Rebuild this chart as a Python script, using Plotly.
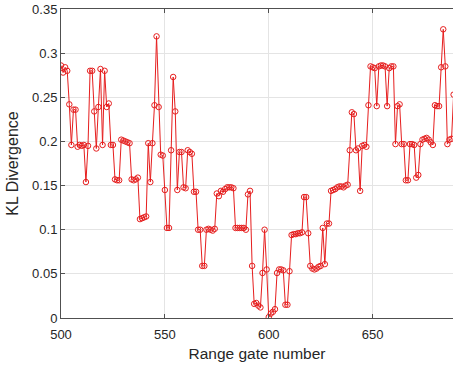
import plotly.graph_objects as go

start_gate = 500
kl_values = [
    0.286, 0.278, 0.284, 0.280, 0.242, 0.196, 0.236, 0.236, 0.194, 0.196,
    0.195, 0.196, 0.154, 0.195, 0.280, 0.280, 0.234, 0.192, 0.239, 0.282,
    0.196, 0.280, 0.239, 0.243, 0.196, 0.196, 0.157, 0.156, 0.156, 0.202,
    0.201, 0.200, 0.199, 0.198, 0.157, 0.156, 0.157, 0.159, 0.112, 0.113,
    0.114, 0.115, 0.198, 0.154, 0.198, 0.241, 0.319, 0.239, 0.185, 0.184,
    0.145, 0.102, 0.102, 0.190, 0.273, 0.234, 0.145, 0.188, 0.188, 0.148,
    0.147, 0.190, 0.188, 0.186, 0.143, 0.143, 0.100, 0.100, 0.059, 0.059,
    0.100, 0.101, 0.100, 0.099, 0.101, 0.141, 0.138, 0.144, 0.143, 0.146,
    0.148, 0.148, 0.148, 0.147, 0.102, 0.102, 0.102, 0.102, 0.102, 0.100,
    0.140, 0.144, 0.059, 0.016, 0.017, 0.014, 0.012, 0.051, 0.100, 0.055,
    0.001, 0.005, 0.007, 0.010, 0.051, 0.055, 0.055, 0.054, 0.015, 0.015,
    0.053, 0.094, 0.095, 0.095, 0.096, 0.096, 0.097, 0.137, 0.137, 0.096,
    0.059, 0.056, 0.055, 0.056, 0.058, 0.059, 0.102, 0.061, 0.107, 0.107,
    0.144, 0.145, 0.146, 0.148, 0.149, 0.149, 0.148, 0.150, 0.151, 0.190,
    0.233, 0.231, 0.190, 0.192, 0.144, 0.195, 0.196, 0.194, 0.241, 0.285,
    0.284, 0.283, 0.240, 0.285, 0.286, 0.286, 0.285, 0.240, 0.283, 0.285,
    0.285, 0.197, 0.240, 0.242, 0.197, 0.197, 0.156, 0.156, 0.197, 0.197,
    0.196, 0.159, 0.162, 0.197, 0.202, 0.203, 0.204, 0.202, 0.199, 0.196,
    0.241, 0.240, 0.240, 0.284, 0.327, 0.285, 0.197, 0.202, 0.203, 0.253,
]
gates = [start_gate + i for i in range(len(kl_values))]

x_ticks = [500, 550, 600, 650]
y_ticks = [0, 0.05, 0.1, 0.15, 0.2, 0.25, 0.3, 0.35]
y_tick_text = ["0", "0.05", "0.1", "0.15", "0.2", "0.25", "0.3", "0.35"]

red = "rgb(230,30,30)"
axis_col = "rgb(80,80,80)"
text_col = "rgb(38,38,38)"

fig = go.Figure(go.Scatter(
    x=gates, y=kl_values, mode="lines+markers",
    line=dict(color=red, width=1),
    marker=dict(symbol="circle-open", size=5.5, color=red, line=dict(width=1)),
    cliponaxis=True,
))

fig.update_layout(
    width=453, height=368,
    margin=dict(l=61, r=0, t=9, b=50),
    paper_bgcolor="white", plot_bgcolor="white",
    showlegend=False,
    font=dict(family="Liberation Sans, Arial, sans-serif", color=text_col, size=13),
)
fig.update_xaxes(
    range=[500, 688.7], tickvals=x_ticks, ticks="inside", ticklen=4,
    tickcolor=axis_col, showline=True, linecolor=axis_col, linewidth=1,
    mirror="ticks", showgrid=True, gridcolor="rgb(228,228,228)", gridwidth=1,
    zeroline=False, tickfont=dict(size=13), ticklabelstandoff=4,
    title=dict(text="Range gate number", font=dict(size=15.5), standoff=7),
)
fig.update_yaxes(
    range=[0, 0.35], tickvals=y_ticks, ticktext=y_tick_text, ticks="inside",
    ticklen=4, tickcolor=axis_col, showline=True, linecolor=axis_col,
    linewidth=1, mirror=False, showgrid=True, gridcolor="rgb(228,228,228)",
    gridwidth=1, zeroline=False, tickfont=dict(size=13),
    title=dict(text="KL Divergence", font=dict(size=16), standoff=9),
)

fig.write_html("out.html")
